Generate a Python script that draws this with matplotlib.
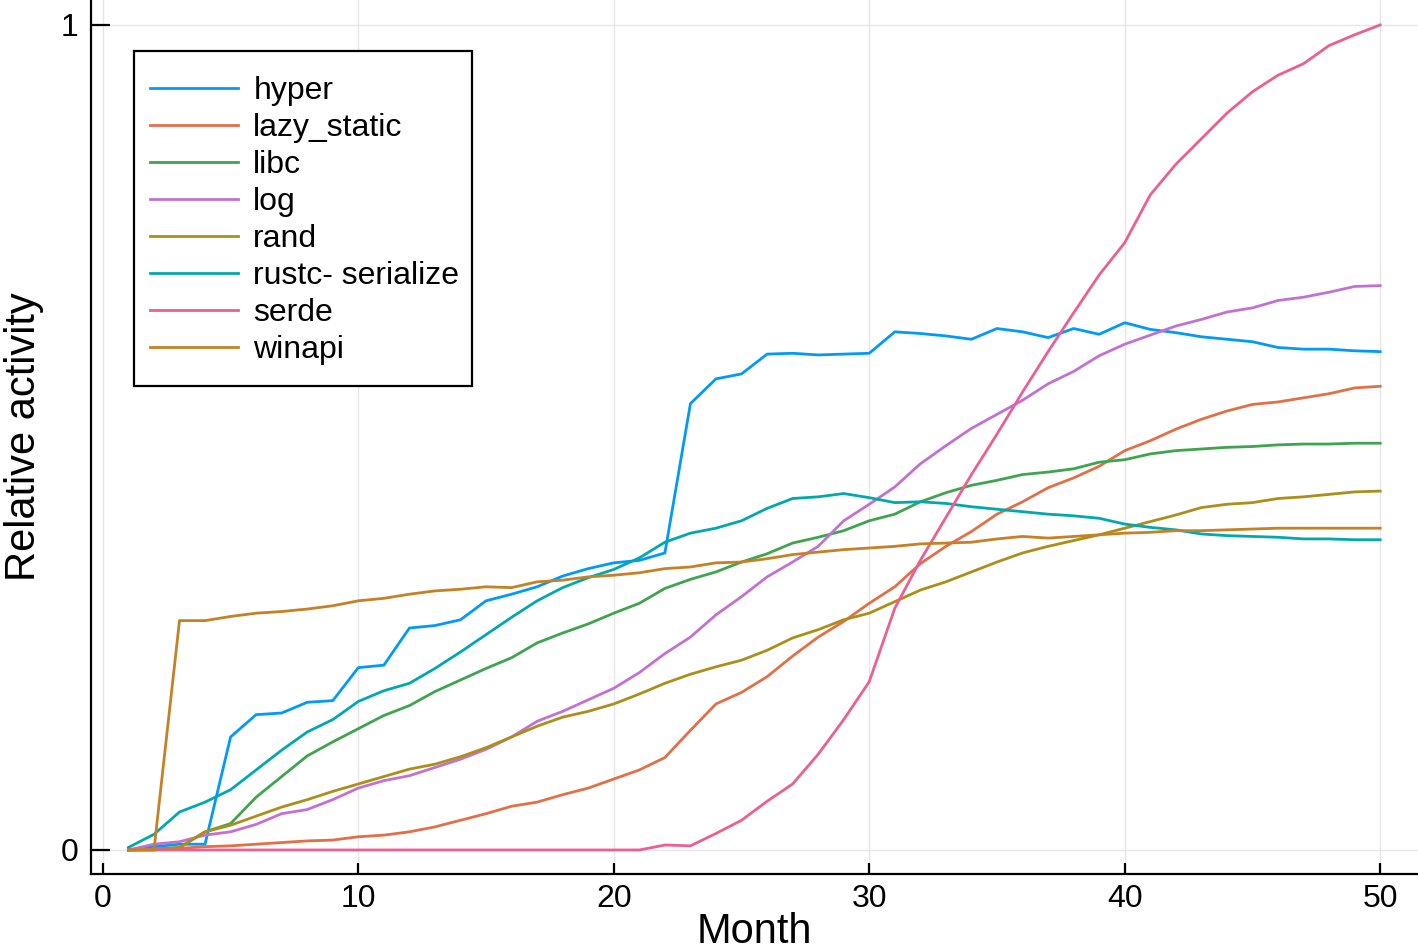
import matplotlib
matplotlib.use('Agg')
import matplotlib.pyplot as plt
from matplotlib.patches import Rectangle
import numpy as np

plt.rcParams['font.family'] = ['Liberation Sans', 'DejaVu Sans']

months = np.arange(1, 51)

hyper = [0.0, 0.004, 0.007, 0.007, 0.137, 0.164, 0.166, 0.179, 0.181, 0.221,
         0.224, 0.269, 0.272, 0.279, 0.302, 0.310, 0.319, 0.332, 0.341, 0.348,
         0.351, 0.360, 0.541, 0.571, 0.577, 0.601, 0.602, 0.600, 0.601, 0.602,
         0.628, 0.626, 0.623, 0.619, 0.632, 0.628, 0.621, 0.632, 0.625, 0.639,
         0.631, 0.627, 0.622, 0.619, 0.616, 0.609, 0.607, 0.607, 0.605, 0.604]
lazy_static = [0.0, 0.0, 0.002, 0.004, 0.005, 0.007, 0.009, 0.011, 0.012, 0.016,
               0.018, 0.022, 0.028, 0.036, 0.044, 0.053, 0.058, 0.067, 0.075, 0.086,
               0.097, 0.112, 0.145, 0.177, 0.191, 0.210, 0.235, 0.258, 0.277, 0.299,
               0.319, 0.347, 0.368, 0.386, 0.407, 0.422, 0.439, 0.451, 0.465, 0.484,
               0.496, 0.510, 0.522, 0.532, 0.540, 0.543, 0.548, 0.553, 0.560, 0.562]
libc = [0.0, 0.001, 0.003, 0.022, 0.032, 0.064, 0.089, 0.114, 0.131, 0.147,
        0.163, 0.175, 0.192, 0.206, 0.220, 0.233, 0.251, 0.263, 0.274, 0.287,
        0.299, 0.317, 0.328, 0.337, 0.349, 0.359, 0.372, 0.379, 0.387, 0.399,
        0.407, 0.422, 0.433, 0.442, 0.448, 0.455, 0.458, 0.462, 0.470, 0.473,
        0.480, 0.484, 0.486, 0.488, 0.489, 0.491, 0.492, 0.492, 0.493, 0.493]
log = [0.0, 0.007, 0.010, 0.018, 0.022, 0.031, 0.044, 0.049, 0.061, 0.075,
       0.084, 0.090, 0.100, 0.110, 0.122, 0.137, 0.156, 0.168, 0.182, 0.196,
       0.215, 0.238, 0.258, 0.285, 0.307, 0.331, 0.349, 0.368, 0.399, 0.419,
       0.440, 0.468, 0.490, 0.511, 0.528, 0.545, 0.565, 0.580, 0.599, 0.613,
       0.624, 0.635, 0.643, 0.652, 0.657, 0.666, 0.670, 0.676, 0.683, 0.684]
rand = [0.0, 0.001, 0.003, 0.022, 0.030, 0.041, 0.052, 0.061, 0.071, 0.080,
        0.089, 0.098, 0.104, 0.113, 0.124, 0.137, 0.150, 0.161, 0.168, 0.177,
        0.189, 0.202, 0.213, 0.222, 0.230, 0.242, 0.257, 0.267, 0.279, 0.287,
        0.301, 0.315, 0.325, 0.337, 0.349, 0.360, 0.368, 0.375, 0.382, 0.390,
        0.398, 0.406, 0.415, 0.419, 0.421, 0.426, 0.428, 0.431, 0.434, 0.435]
rustc_serialize = [0.003, 0.019, 0.046, 0.058, 0.073, 0.097, 0.121, 0.143, 0.158, 0.180,
                   0.193, 0.202, 0.220, 0.240, 0.261, 0.282, 0.302, 0.318, 0.330, 0.340,
                   0.354, 0.373, 0.384, 0.390, 0.399, 0.414, 0.426, 0.428, 0.432, 0.427,
                   0.421, 0.422, 0.420, 0.416, 0.413, 0.410, 0.407, 0.405, 0.402, 0.395,
                   0.391, 0.388, 0.383, 0.381, 0.380, 0.379, 0.377, 0.377, 0.376, 0.376]
serde = [0.0] * 21 + [0.006, 0.005, 0.020, 0.036, 0.059, 0.080, 0.116, 0.158, 0.204,
                      0.293, 0.351, 0.403, 0.455, 0.504, 0.555, 0.604, 0.651, 0.697, 0.736,
                      0.794, 0.831, 0.862, 0.893, 0.919, 0.939, 0.953, 0.975, 0.988, 1.000]
winapi = [0.0, 0.0, 0.278, 0.278, 0.283, 0.287, 0.289, 0.292, 0.296, 0.302,
          0.305, 0.310, 0.314, 0.316, 0.319, 0.318, 0.325, 0.327, 0.331, 0.333,
          0.336, 0.341, 0.343, 0.348, 0.349, 0.353, 0.358, 0.361, 0.364, 0.366,
          0.368, 0.371, 0.372, 0.373, 0.377, 0.380, 0.378, 0.380, 0.382, 0.384,
          0.385, 0.387, 0.387, 0.388, 0.389, 0.390, 0.390, 0.390, 0.390, 0.390]

names = ['hyper', 'lazy_static', 'libc', 'log', 'rand', 'rustc- serialize', 'serde', 'winapi']
series = [hyper, lazy_static, libc, log, rand, rustc_serialize, serde, winapi]
colors = ['#009AFA', '#E36F47', '#3EA44E', '#C271D2', '#AC8E18', '#00A9AD', '#ED5E93', '#C68125']

fig = plt.figure(figsize=(14.18, 9.47), dpi=100)
ax = fig.add_axes([0.064, 0.0771, 0.936, 0.923])

for name, vals, c in zip(names, series, colors):
    ax.plot(months, vals, color=c, lw=2.0, label=name)

ax.set_xlim(-0.474, 51.48)
ax.set_ylim(-0.0291, 1.0303)
ax.set_xticks([0, 10, 20, 30, 40, 50])
ax.set_yticks([0, 1])
ax.grid(True, color='#e6e6e6', lw=1.0)
ax.set_axisbelow(True)

for s in ['top', 'right']:
    ax.spines[s].set_visible(False)
for s in ['left', 'bottom']:
    ax.spines[s].set_linewidth(1.6)

ax.tick_params(axis='y', direction='in', length=14, width=1.6, labelsize=23, pad=9)
ax.tick_params(axis='x', direction='in', length=8, width=1.6, labelsize=23, pad=7)

ax.set_xlabel('Month', fontsize=30, labelpad=-1)
ax.set_ylabel('Relative activity', fontsize=30, labelpad=12)

# legend box drawn separately so the padding can differ horizontally / vertically
box = Rectangle((0.0326, 0.5584), 0.2547, 0.3833, transform=ax.transAxes,
                facecolor='white', edgecolor='black', lw=1.6, zorder=4.9)
ax.add_patch(box)
leg = ax.legend(loc='upper left', bbox_to_anchor=(0.0447, 0.9130), borderaxespad=0,
                fontsize=23, handlelength=2.75, handletextpad=0.48, labelspacing=0.22,
                borderpad=0, frameon=False)
leg.set_zorder(5)
for line in leg.get_lines():
    line.set_linewidth(2.0)

fig.savefig('out.png', dpi=100)
